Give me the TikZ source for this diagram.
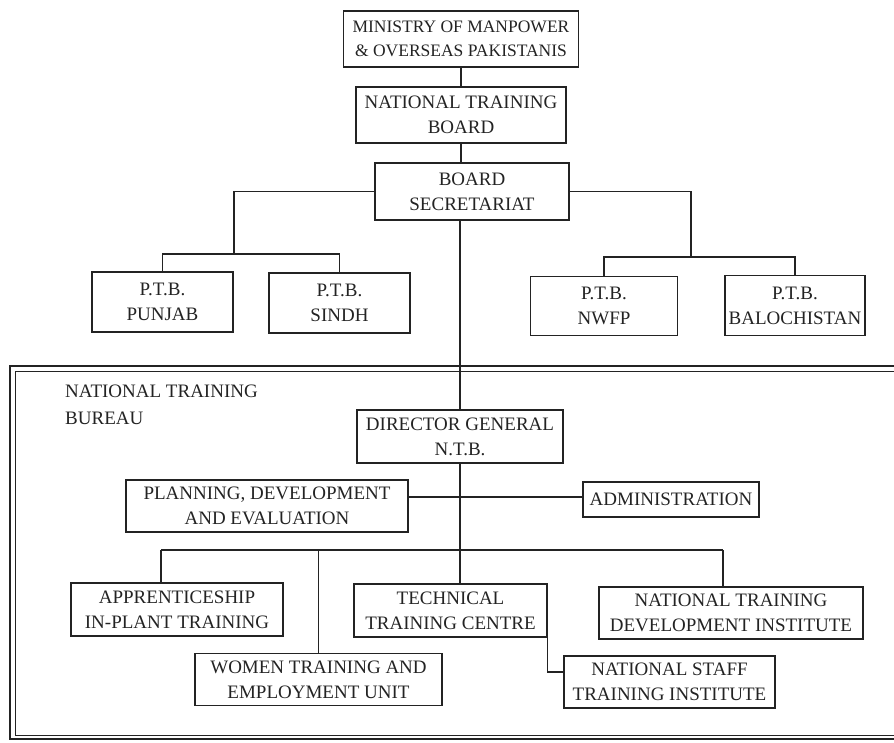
\documentclass[tikz,border=0pt]{standalone}
\usepackage{fontspec}
\setmainfont{Liberation Serif}
\definecolor{ink}{RGB}{35,35,35}
\begin{document}
\begin{tikzpicture}[x=1pt,y=-1pt,
  box/.style={draw=ink, line width=1.4pt, align=center, inner sep=0pt, text=ink,
    font=\fontsize{19}{25}\selectfont},
  link/.style={draw=ink, line width=1.4pt}]
\useasboundingbox (0,0) rectangle (894,742);

% board level
\node (minis) at (461,39) [box, minimum width=235pt, minimum height=56pt,
  font=\fontsize{17.5}{24}\selectfont] {MINISTRY OF MANPOWER\\\& OVERSEAS PAKISTANIS};
\node (ntb) at (461,115) [box, minimum width=210pt, minimum height=56pt] {NATIONAL TRAINING\\BOARD};
\node (secr) at (472,191.5) [box, minimum width=194pt, minimum height=57pt] {BOARD\\SECRETARIAT};
\node (punjab) at (162.5,302) [box, minimum width=141pt, minimum height=60pt] {P.T.B.\\PUNJAB};
\node (sindh) at (339.5,303) [box, minimum width=141pt, minimum height=60pt] {P.T.B.\\SINDH};
\node (nwfp) at (604,306) [box, minimum width=147pt, minimum height=59pt] {P.T.B.\\NWFP};
\node (baloch) at (795,305.5) [box, minimum width=140pt, minimum height=60pt] {P.T.B.\\BALOCHISTAN};
\coordinate (lbus) at (234,254);
\coordinate (rbus) at (691,257);

\draw[link]
(minis) to (ntb)
(ntb.south -| minis) to (ntb.south |- secr.north)
(secr.west) -| (lbus)
(punjab) |- (lbus) -| (sindh)
(secr.east) -| (rbus)
(nwfp) |- (rbus) -| (baloch);

% bureau frame
\draw[ink, line width=1.5pt] (900,366) -- (10,366) -- (10,739) -- (900,739);
\draw[ink, line width=0.9pt] (900,371) -- (15,371) -- (15,735) -- (900,735);
\node (bureau) at (65,385) [anchor=north west, align=left, inner sep=0pt, text=ink,
  font=\fontsize{19}{27}\selectfont] {NATIONAL TRAINING\\BUREAU};

% bureau level
\node (dg) at (460,436.5) [box, minimum width=206pt, minimum height=53pt] {DIRECTOR GENERAL\\N.T.B.};
\node (plan) at (267,506) [box, minimum width=282pt, minimum height=52pt] {PLANNING, DEVELOPMENT\\AND EVALUATION};
\node (admin) at (671,499.5) [box, minimum width=176pt, minimum height=35pt] {ADMINISTRATION};
\node (appr) at (177,609.5) [box, minimum width=212pt, minimum height=53pt] {APPRENTICESHIP\\IN-PLANT TRAINING};
\node (women) at (318.5,679.5) [box, minimum width=247pt, minimum height=52pt] {WOMEN TRAINING AND\\EMPLOYMENT UNIT};
\node (tech) at (450.5,610.5) [box, minimum width=193pt, minimum height=53pt] {TECHNICAL\\TRAINING CENTRE};
\node (ntdi) at (731,613) [box, minimum width=264pt, minimum height=52pt] {NATIONAL TRAINING\\DEVELOPMENT INSTITUTE};
\node (nsti) at (669.5,682) [box, minimum width=211pt, minimum height=52pt] {NATIONAL STAFF\\TRAINING INSTITUTE};
\coordinate (mid) at (460,497);
\coordinate (b1) at (161,550);
\coordinate (b4) at (723,550);

\draw[link]
(secr.south -| dg.north) to (dg.north)
(dg) to (tech.north -| dg)
(mid) to (mid -| plan.east)
(mid) to (mid -| admin.west)
(b1) to (b4)
(b1) to (b1 |- appr.north)
(b4) to (b4 |- ntdi.north)
(b1 -| women.north) to (women.north)
(tech.south east) |- ([yshift=10pt]nsti.west);
\end{tikzpicture}
\end{document}
